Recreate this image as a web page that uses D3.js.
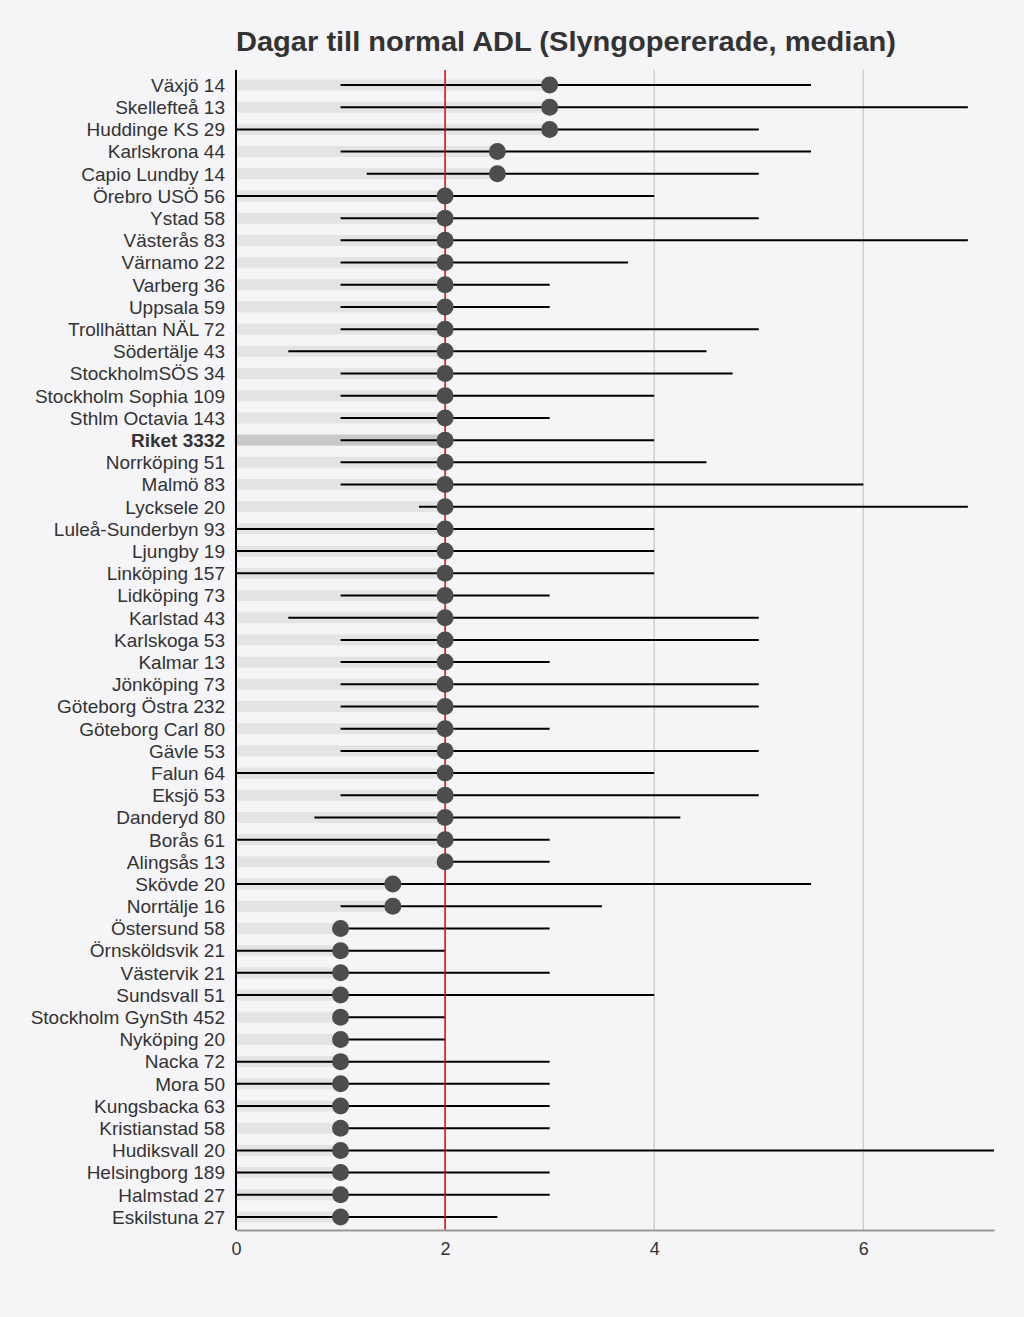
<!DOCTYPE html>
<html>
<head>
<meta charset="utf-8">
<script src="https://cdn.jsdelivr.net/npm/d3@7"></script>
<style>
  html, body { margin: 0; padding: 0; background: #f5f4f7; }
  svg { display: block; }
</style>
</head>
<body>
<svg id="chart" width="1024" height="1317"></svg>
<script>
const title = "Dagar till normal ADL (Slyngopererade, median)";
const units = ["Växjö","Skellefteå","Huddinge KS","Karlskrona","Capio Lundby","Örebro USÖ","Ystad","Västerås","Värnamo","Varberg","Uppsala","Trollhättan NÄL","Södertälje","StockholmSÖS","Stockholm Sophia","Sthlm Octavia","Riket","Norrköping","Malmö","Lycksele","Luleå-Sunderbyn","Ljungby","Linköping","Lidköping","Karlstad","Karlskoga","Kalmar","Jönköping","Göteborg Östra","Göteborg Carl","Gävle","Falun","Eksjö","Danderyd","Borås","Alingsås","Skövde","Norrtälje","Östersund","Örnsköldsvik","Västervik","Sundsvall","Stockholm GynSth","Nyköping","Nacka","Mora","Kungsbacka","Kristianstad","Hudiksvall","Helsingborg","Halmstad","Eskilstuna"];
const counts = [14,13,29,44,14,56,58,83,22,36,59,72,43,34,109,143,3332,51,83,20,93,19,157,73,43,53,13,73,232,80,53,64,53,80,61,13,20,16,58,21,21,51,452,20,72,50,63,58,20,189,27,27];
const lowerQ = [1,1,0,1,1.25,0,1,1,1,1,1,1,0.5,1,1,1,1,1,1,1.75,0,0,0,1,0.5,1,1,1,1,1,1,0,1,0.75,0,2,0,1,1,0,0,0,1,1,0,0,0,1,0,0,0,0];
const medians = [3,3,3,2.5,2.5,2,2,2,2,2,2,2,2,2,2,2,2,2,2,2,2,2,2,2,2,2,2,2,2,2,2,2,2,2,2,2,1.5,1.5,1,1,1,1,1,1,1,1,1,1,1,1,1,1];
const upperQ = [5.5,7,5,5.5,5,4,5,7,3.75,3,3,5,4.5,4.75,4,3,4,4.5,6,7,4,4,4,3,5,5,3,5,5,3,5,4,5,4.25,3,3,5.5,3.5,3,2,3,4,2,2,3,3,3,3,7.25,3,3,2.5];
const xTicks = [0,2,4,6];
const refValue = 2;
const totalLabel = "Riket";

const rows = units.map((u,i) => ({
  label: u + " " + counts[i], unit: u, lo: lowerQ[i], med: medians[i], hi: upperQ[i]
}));

const svg = d3.select("#chart");
const plotLeft = 236, plotRight = 994, plotTop = 70, plotBottom = 1230;

const x = d3.scaleLinear().domain([0, 7.25]).range([plotLeft, plotRight]);
const y = d3.scalePoint().domain(rows.map(d => d.label)).range([85, 1217]);

// title
svg.append("text").attr("x", 566).attr("y", 51).attr("text-anchor","middle")
  .attr("font-family","Liberation Sans, Arial, sans-serif").attr("font-weight","bold")
  .attr("font-size", 27).attr("fill","#333").attr("textLength", 660).attr("lengthAdjust","spacingAndGlyphs")
  .text(title);

// grid lines
svg.append("g").selectAll("line").data(xTicks.filter(t => t > 0 && t !== refValue)).join("line")
  .attr("x1", d => x(d)).attr("x2", d => x(d)).attr("y1", plotTop).attr("y2", plotBottom)
  .attr("stroke", "#cfcfcf").attr("stroke-width", 1.5);

// background bars 0 -> median
svg.append("g").selectAll("rect").data(rows).join("rect")
  .attr("x", x(0)).attr("y", d => y(d.label) - 5.5)
  .attr("width", d => x(d.med) - x(0)).attr("height", 11)
  .attr("fill", d => d.unit === totalLabel ? "#c9c9c9" : "#e4e4e4");

// whiskers
svg.append("g").selectAll("line").data(rows).join("line")
  .attr("x1", d => x(d.lo)).attr("x2", d => x(d.hi))
  .attr("y1", d => y(d.label)).attr("y2", d => y(d.label))
  .attr("stroke", "#000").attr("stroke-width", 2);

// reference line
svg.append("line").attr("x1", x(refValue)).attr("x2", x(refValue))
  .attr("y1", plotTop).attr("y2", plotBottom).attr("stroke", "#e00000").attr("stroke-width", 1.5);

// dots
svg.append("g").selectAll("circle").data(rows).join("circle")
  .attr("cx", d => x(d.med)).attr("cy", d => y(d.label)).attr("r", 8.5)
  .attr("fill", "#4d4d4d");

// y labels
svg.append("g").selectAll("text").data(rows).join("text")
  .attr("x", 225).attr("y", d => y(d.label)).attr("dy", "0.36em")
  .attr("text-anchor", "end").attr("font-family","Liberation Sans, Arial, sans-serif")
  .attr("font-size", 19).attr("fill", "#333")
  .attr("font-weight", d => d.unit === totalLabel ? "bold" : "normal")
  .text(d => d.label);

// left axis line
svg.append("line").attr("x1", plotLeft).attr("x2", plotLeft).attr("y1", plotTop).attr("y2", plotBottom)
  .attr("stroke", "#000").attr("stroke-width", 2);

// bottom axis
const xAxis = d3.axisBottom(x).tickValues(xTicks).tickSize(0).tickPadding(12).tickFormat(d3.format("d"));
const gx = svg.append("g").attr("transform", `translate(0,${plotBottom})`).call(xAxis);
gx.select(".domain").attr("stroke", "#999").attr("stroke-width", 2);
gx.selectAll("text").attr("font-family","Liberation Sans, Arial, sans-serif").attr("font-size", 18).attr("fill", "#333");
</script>
</body>
</html>
